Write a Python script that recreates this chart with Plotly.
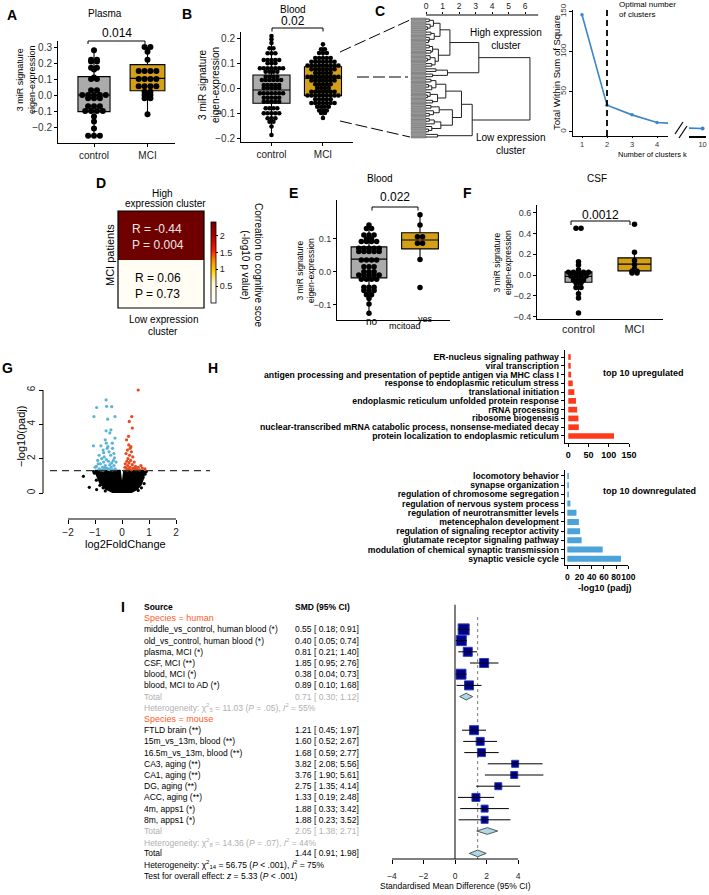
import math
import plotly.graph_objects as go

W, H = 709, 895
FONT = "Liberation Sans, Arial, Helvetica, sans-serif"

# ======================= DATA =======================
groups_cm = ["control", "MCI"]

# Panel A - plasma (3 miR signature eigen-expression)
a_ctrl = [0.28, 0.22, 0.22, 0.21, 0.21, 0.17, 0.17, 0.16, 0.11, 0.10, 0.10, 0.03, 0.03,
          0.0, 0.0, 0.0, 0.0, 0.0, -0.02, -0.02, -0.02, -0.07, -0.07, -0.07,
          -0.10, -0.10, -0.10, -0.10, -0.135, -0.165, -0.21, -0.255, -0.255, -0.255]
a_mci = [0.30, 0.30, 0.27, 0.22, 0.15, 0.15, 0.15, 0.15, 0.10, 0.10, 0.10, 0.10,
         0.055, 0.055, 0.055, 0.055, 0.02, 0.02, 0.0, 0.0, -0.02, -0.02, -0.12]
# box stats: [lower whisker, q1, median, q3, upper whisker]
a_box_ctrl = [-0.255, -0.104, 0.0, 0.115, 0.28]
a_box_mci = [-0.12, 0.027, 0.104, 0.19, 0.30]
a_pval = "0.014"

# Panel B - blood (dot rows: level value, number of dots)
b_ctrl_levels = [0.208, 0.195, 0.18, 0.159, 0.139, 0.112, 0.099, 0.079, 0.065, 0.045, 0.032,
                 0.012, 0.0, -0.021, -0.039, -0.055, -0.081, -0.101, -0.121, -0.135, -0.154, -0.188]
b_ctrl_counts = [1, 1, 1, 2, 3, 5, 3, 7, 4, 4, 6, 5, 5, 7, 5, 5, 4, 5, 3, 2, 1, 1]
b_mci_levels = [0.175, 0.155, 0.14, 0.12, 0.105, 0.09, 0.075, 0.06, 0.045, 0.03, 0.015, 0.0,
                -0.015, -0.03, -0.045, -0.06, -0.075, -0.09, -0.1, -0.12]
b_mci_counts = [1, 2, 3, 5, 7, 9, 7, 5, 9, 7, 5, 4, 7, 9, 5, 7, 4, 3, 2, 1]
b_box_ctrl = [-0.188, -0.061, -0.008, 0.052, 0.208]
b_box_mci = [-0.12, -0.031, 0.039, 0.085, 0.175]
b_pval = "0.02"

# Panel C - dendrogram (height, left, right); 0 = leaf
L = 0
dendro_tree = (6.3,
    (3.2,
        (1.45,
            (0.85,
                (0.45, (0.2, L, L), (0.25, L, (0.1, L, L))),
                (0.5, (0.3, L, L), (0.2, L, (0.15, L, L)))),
            (0.75,
                (0.4, (0.2, L, L), (0.3, L, L)),
                (0.55, (0.25, L, (0.1, L, L)), (0.35, L, L)))),
        (1.3, (0.6, L, L), (0.4, L, L))),
    (2.8,
        (2.15,
            (1.2,
                (0.6, (0.3, L, L), (0.35, (0.15, L, L), L)),
                (0.7, (0.25, L, (0.1, L, L)), (0.4, L, L))),
            (1.6,
                (0.8, (0.3, L, L), (0.45, L, (0.2, L, L))),
                (0.9, (0.5, (0.2, L, L), L), (0.35, L, (0.15, L, L))))),
        (0.7, L, L)))
dendro_ticks = [0, 1, 2, 3, 4, 5, 6]

# Panel C - elbow
elbow_k = [1, 2, 3, 4, 5]
elbow_wss = [146, 33, 21, 11.5, 9.5]
elbow_k_tail = [9, 10]
elbow_wss_tail = [4.5, 4.0]
optimal_k = 2

# Panel D - correlation to cognitive score (high, low expression cluster)
d_r = [-0.44, 0.06]
d_p = [0.004, 0.73]

# Panel E - blood, MCI to AD
e_no_levels = [0.142, 0.132, 0.112, 0.1, 0.092, 0.072, 0.062, 0.036, 0.016, 0.001, -0.009,
               -0.022, -0.046, -0.056, -0.069, -0.08, -0.097, -0.125]
e_no_counts = [1, 2, 3, 2, 4, 5, 5, 4, 3, 3, 5, 4, 3, 3, 2, 1, 1, 1]
e_yes = [0.173, 0.142, 0.107, 0.107, 0.087, 0.087, 0.038, -0.047]
e_box_no = [-0.125, -0.018, 0.039, 0.076, 0.142]
e_box_yes = [0.038, 0.07, 0.097, 0.119, 0.173]
e_pval = "0.022"

# Panel F - CSF
f_ctrl = [0.449, 0.449, 0.128, 0.095, 0.05, 0.026, 0.026, 0.026, 0.026, 0.026,
          -0.01, -0.01, -0.01, -0.01, -0.048, -0.048, -0.048, -0.075, -0.075,
          -0.12, -0.12, -0.18, -0.22, -0.366]
f_mci = [0.487, 0.218, 0.14, 0.1, 0.06, 0.035, 0.035, 0.02, 0.02]
f_box_ctrl = [-0.22, -0.07, -0.013, 0.03, 0.128]
f_box_mci = [0.02, 0.04, 0.105, 0.165, 0.218]
f_pval = "0.0012"

# Panel G - volcano (log2FoldChange, -log10 padj)
g_down_pts = [(-0.51, 6.4), (-0.59, 5.42), (-0.57, 5.05), (-0.94, 4.98), (-0.38, 5.03),
              (-1.04, 4.45), (-0.26, 4.45), (-0.53, 4.3), (-0.41, 3.68), (-0.59, 3.62),
              (-1.06, 2.75), (-0.78, 2.75), (-0.26, 3.2), (-0.36, 2.9), (-0.62, 3.1),
              (-0.45, 3.5), (-0.7, 2.5), (-0.55, 2.6), (-0.3, 2.3), (-0.85, 2.2),
              (-0.48, 2.4), (-0.66, 2.1), (-0.35, 2.6), (-0.9, 1.9), (-0.75, 2.0),
              (-0.42, 2.2), (-0.58, 1.95), (-0.28, 2.05), (-0.68, 1.8), (-0.5, 1.85),
              (-0.8, 1.7), (-0.38, 1.75), (-0.62, 1.6), (-0.95, 1.55), (-0.45, 1.65),
              (-0.72, 1.5), (-0.3, 1.6), (-0.55, 1.45), (-0.85, 1.4), (-0.65, 1.45),
              (-0.4, 1.5), (-0.25, 1.4), (-0.5, 1.38), (-0.78, 1.35), (-0.6, 1.42),
              (-0.35, 1.35), (-1.0, 1.5), (-0.7, 1.33), (-0.45, 1.36), (-0.88, 1.7),
              (-0.32, 1.9), (-0.58, 2.9), (-0.22, 1.8), (-0.68, 2.35), (-0.52, 2.7)]
g_up_pts = [(0.6, 6.0), (0.36, 4.45), (0.27, 4.17), (0.38, 3.78), (0.17, 3.1), (0.25, 2.8),
            (0.3, 2.6), (0.2, 2.5), (0.35, 2.4), (0.15, 2.3), (0.28, 2.2), (0.4, 2.1),
            (0.22, 2.0), (0.32, 1.9), (0.18, 1.85), (0.45, 1.8), (0.26, 1.75), (0.12, 1.7),
            (0.38, 1.65), (0.21, 1.6), (0.5, 1.55), (0.3, 1.5), (0.15, 1.45), (0.42, 1.45),
            (0.25, 1.4), (0.6, 1.5), (0.7, 1.6), (0.75, 1.45), (0.85, 1.4), (0.55, 1.38),
            (0.35, 1.35), (0.2, 1.35), (0.48, 1.4), (0.65, 1.35), (0.11, 1.5), (0.33, 2.7),
            (0.24, 3.3)]
g_ns_pts = [(-1.43, 0.97), (-1.21, 0.33), (-0.94, 0.2), (-1.02, 1.15), (-0.95, 0.75),
            (0.78, 0.9), (0.82, 0.55), (0.72, 0.3), (-0.82, 0.45), (0.6, 0.15), (-0.62, 0.12),
            (0.86, 1.1), (-1.05, 1.25), (0.9, 1.25), (-0.7, 0.3)]
g_ns_region_lfc = [-1.0, -0.92, -0.8, -0.6, -0.35, 0.0, 0.35, 0.55, 0.7, 0.78, 0.83, 0.8,
                   0.08, 0.03, -0.03, -0.08, -1.0]
g_ns_region_p = [1.3, 0.95, 0.55, 0.25, 0.06, 0.0, 0.06, 0.22, 0.5, 0.85, 1.2, 1.3,
                 1.3, 0.65, 0.65, 1.3, 1.3]
g_padj_cut = 0.05

# Panel H - GO enrichment
h_up_terms = ["ER-nucleus signaling pathway", "viral transcription",
              "antigen processing and presentation of peptide antigen via MHC class I",
              "response to endoplasmic reticulum stress", "translational initiation",
              "endoplasmic reticulum unfolded protein response", "rRNA processing",
              "ribosome biogenesis", "nuclear-transcribed mRNA catabolic process, nonsense-mediated decay",
              "protein localization to endoplasmic reticulum"]
h_up_vals = [6, 6, 7, 11, 15, 19, 22, 25, 26, 113]
h_down_terms = ["locomotory behavior", "synapse organization", "regulation of chromosome segregation",
                "regulation of nervous system process", "regulation of neurotransmitter levels",
                "metencephalon development", "regulation of signaling receptor activity",
                "glutamate receptor signaling pathway", "modulation of chemical synaptic transmission",
                "synaptic vesicle cycle"]
h_down_vals = [2.5, 2.5, 2.5, 5, 15, 19, 21, 23.5, 58, 88]

# Panel I - meta-analysis
i_human_src = ["middle_vs_control, human blood (*)", "old_vs_control, human blood (*)",
               "plasma, MCI (*)", "CSF, MCI (**)", "blood, MCI (*)", "blood, MCI to AD (*)"]
i_human_smd = [0.55, 0.40, 0.81, 1.85, 0.38, 0.89]
i_human_lo = [0.18, 0.05, 0.21, 0.95, 0.04, 0.10]
i_human_hi = [0.91, 0.74, 1.40, 2.76, 0.73, 1.68]
i_human_w = [11, 10, 9, 9, 10, 9]
i_mouse_src = ["FTLD brain (**)", "15m_vs_13m, blood (**)", "16.5m_vs_13m, blood (**)",
               "CA3, aging (**)", "CA1, aging (**)", "DG, aging (**)", "ACC, aging (**)",
               "4m, apps1 (*)", "8m, apps1 (*)"]
i_mouse_smd = [1.21, 1.60, 1.68, 3.82, 3.76, 2.75, 1.33, 1.88, 1.88]
i_mouse_lo = [0.45, 0.52, 0.59, 2.08, 1.90, 1.35, 0.19, 0.33, 0.23]
i_mouse_hi = [1.97, 2.67, 2.77, 5.56, 5.61, 4.14, 2.48, 3.42, 3.52]
i_mouse_w = [9, 8, 8, 7, 7, 7, 8, 7, 7]
i_total_human = [0.71, 0.30, 1.12]
i_total_mouse = [2.05, 1.38, 2.71]
i_total_all = [1.44, 0.91, 1.98]
i_x_ticks = [-4, -2, 0, 2, 4]

# ======================= HELPERS =======================
def X(px): return px / W
def Y(py): return 1 - py / H
def lin(v, r0, r1, p0, p1): return p0 + (v - r0) / (r1 - r0) * (p1 - p0)

layout = {}
shapes = []
annos = []
traces = []

def axname(n, a): return (a + 'axis') if n == 1 else f'{a}axis{n}'
def axref(n, a): return a if n == 1 else f'{a}{n}'

def set_axes(n, xdom, ydom, xr, yr, xo=None, yo=None):
    base = dict(showgrid=False, zeroline=False, showline=False, showticklabels=False,
                ticks='', fixedrange=True, type='linear', automargin=False)
    xa = dict(base, domain=[X(xdom[0]), X(xdom[1])], range=xr, anchor=axref(n, 'y'))
    ya = dict(base, domain=[Y(ydom[1]), Y(ydom[0])], range=yr, anchor=axref(n, 'x'))
    if xo: xa.update(xo)
    if yo: ya.update(yo)
    layout[axname(n, 'x')] = xa
    layout[axname(n, 'y')] = ya

def classic(size, **kw):
    d = dict(showline=True, linecolor='black', linewidth=1, ticks='outside', ticklen=3,
             tickwidth=1, tickcolor='black', showticklabels=True, tickangle=0,
             tickfont=dict(size=size, color='#333333', family=FONT))
    d.update(kw)
    return d

def text(px, py, s, size=9, color='black', xanchor='center', yanchor='middle', angle=0, align='center'):
    annos.append(dict(x=X(px), y=Y(py), xref='paper', yref='paper', text=s, showarrow=False,
                      font=dict(size=size, color=color, family=FONT), xanchor=xanchor,
                      yanchor=yanchor, textangle=angle, align=align))

def seg(x0, y0, x1, y1, color='black', width=1, dash='solid'):
    shapes.append(dict(type='line', xref='paper', yref='paper', x0=X(x0), y0=Y(y0),
                       x1=X(x1), y1=Y(y1), line=dict(color=color, width=width, dash=dash)))

def bracket(x0, x1, y, drop):
    seg(x0, y + drop, x0, y); seg(x0, y, x1, y); seg(x1, y, x1, y + drop)

def expand(levels, counts):
    out = []
    for v, c in zip(levels, counts):
        out += [v] * c
    return out

def dot_xy(values, center, dx):
    rows = {}
    for v in values:
        rows[v] = rows.get(v, 0) + 1
    xs, ys = [], []
    for v, n in rows.items():
        for k in range(n):
            xs.append(center + (k - (n - 1) / 2) * dx)
            ys.append(v)
    return xs, ys

def box_trace(stats, center, width, color, n):
    lo, q1, med, q3, hi = stats
    return go.Box(x=[center], q1=[q1], median=[med], q3=[q3], lowerfence=[lo], upperfence=[hi],
                  width=width, fillcolor=color, line=dict(color='black', width=1.1),
                  whiskerwidth=0, boxpoints=False, xaxis=axref(n, 'x'), yaxis=axref(n, 'y'),
                  showlegend=False, hoverinfo='skip')

def dots_trace(values, center, dx, size, n):
    xs, ys = dot_xy(values, center, dx)
    return go.Scatter(x=xs, y=ys, mode='markers', marker=dict(color='black', size=size, opacity=1),
                      xaxis=axref(n, 'x'), yaxis=axref(n, 'y'), showlegend=False,
                      cliponaxis=False, hoverinfo='skip')

GRAY = '#ABABAB'
GOLD = '#D4A017'

def fmt(v):
    return ('−' + f'{abs(v):.1f}') if v < 0 else f'{v:.1f}'

# ======================= PANEL A =======================
A_X, A_Y = (58, 175), (40.6, 143)
A_XR, A_YR = [-0.673, 1.514], [-0.3, 0.34]
a_yt = [-0.2, -0.1, 0.0, 0.1, 0.2, 0.3]
set_axes(1, A_X, A_Y, A_XR, A_YR,
         classic(10, tickvals=[0, 1], ticktext=groups_cm, tickfont=dict(size=10, color='#222', family=FONT)),
         classic(10, tickvals=a_yt, ticktext=[fmt(v) for v in a_yt]))
traces += [box_trace(a_box_ctrl, 0, 0.6, GRAY, 1), box_trace(a_box_mci, 1, 0.65, GOLD, 1),
           dots_trace(a_ctrl, 0, 0.11, 6, 1), dots_trace(a_mci, 1, 0.11, 6, 1)]
text(105, 14, "Plasma", 10)
text(117, 33, a_pval, 12)
bracket(88, 145, 41, 3)
text(26, 80, "3 miR signature<br>eigen-expression", 9, angle=-90)

# ======================= PANEL B =======================
B_X, B_Y = (241, 353), (32, 142)
B_XR, B_YR = [-0.592, 1.583], [-0.216, 0.224]
b_yt = [-0.2, -0.1, 0.0, 0.1, 0.2]
set_axes(2, B_X, B_Y, B_XR, B_YR,
         classic(10, tickvals=[0, 1], ticktext=groups_cm, tickfont=dict(size=10, color='#222', family=FONT)),
         classic(10, tickvals=b_yt, ticktext=[fmt(v) for v in b_yt]))
traces += [box_trace(b_box_ctrl, 0, 0.72, GRAY, 2), box_trace(b_box_mci, 1, 0.72, GOLD, 2),
           dots_trace(expand(b_ctrl_levels, b_ctrl_counts), 0, 0.075, 4.6, 2),
           dots_trace(expand(b_mci_levels, b_mci_counts), 1, 0.075, 4.6, 2)]
text(293, 10, "Blood", 10)
text(293, 21, b_pval, 12)
bracket(272, 323, 28, 3.5)
text(209, 85, "3 miR signature<br>eigen-expression", 10, angle=-90)

# connectors B -> C
seg(340, 52, 412, 19, dash='12px,4px')
seg(357, 77, 408, 77, dash='12px,4px')
seg(340, 121, 410, 137, dash='12px,4px')

# ======================= PANEL C: dendrogram =======================
C_X, C_Y = (409.5, 538.2), (15, 141)
C_XR = [-1.0, 6.8]
segs = []
counter = [0]

def layout_tree(node):
    if node == L:
        i = counter[0]; counter[0] += 1
        return 0.0, float(i)
    h, a, b = node
    ha, ya = layout_tree(a)
    hb, yb = layout_tree(b)
    segs.append([(ha, ya), (h, ya), (h, yb), (hb, yb)])
    return h, (ya + yb) / 2

layout_tree(dendro_tree)
n_leaves = counter[0]
leaf_step = (137 - 19) / (n_leaves - 1)
C_YR = [(141 - 19) / leaf_step, (15 - 19) / leaf_step]
set_axes(3, C_X, C_Y, C_XR, C_YR,
         dict(side='top', ticks='outside', ticklen=2, tickcolor='black', showticklabels=True,
              tickvals=dendro_ticks, tickfont=dict(size=8.5, color='#222', family=FONT)))
seg(lin(0, C_XR[0], C_XR[1], *C_X), 15, lin(6.8, C_XR[0], C_XR[1], *C_X), 15)
lx, ly = [], []
for s in segs:
    for (px_, py_) in s:
        lx.append(px_); ly.append(py_)
    lx.append(None); ly.append(None)
traces.append(go.Bar(y=list(range(n_leaves)), x=[0.9] * n_leaves, base=[-0.9] * n_leaves,
                     orientation='h', width=0.75, marker=dict(color='#9c9c9c', line=dict(color='#555', width=0.5)),
                     xaxis='x3', yaxis='y3', showlegend=False, hoverinfo='skip'))
traces.append(go.Scatter(x=lx, y=ly, mode='lines', line=dict(color='#222', width=1),
                         xaxis='x3', yaxis='y3', showlegend=False, hoverinfo='skip'))
text(506, 39, "High expression<br>cluster", 10)
text(510, 144, "Low expression<br>cluster", 10)

# ======================= PANEL C: elbow =======================
E4_X, E4_Y = (573, 668), (10, 136)
E4_XR, E4_YR = [0.64, 4.44], [-5.4, 152]
set_axes(4, E4_X, E4_Y, E4_XR, E4_YR,
         classic(7.5, tickvals=[1, 2, 3, 4], ticklen=1, linewidth=1.2),
         classic(8, tickvals=[0, 50, 100, 150], tickangle=-90, ticklen=3))
set_axes(5, (689, 706), E4_Y, [9.2, 10.2], E4_YR,
         classic(7.5, tickvals=[10], ticklen=0, linewidth=1.6))
traces.append(go.Scatter(x=elbow_k, y=elbow_wss, mode='lines+markers',
                         line=dict(color='#3a86c8', width=1.6), marker=dict(size=3.5, color='#3a86c8'),
                         xaxis='x4', yaxis='y4', showlegend=False, hoverinfo='skip'))
traces.append(go.Scatter(x=elbow_k_tail, y=elbow_wss_tail, mode='lines+markers',
                         line=dict(color='#3a86c8', width=1.6), marker=dict(size=4, color='#3a86c8'),
                         xaxis='x5', yaxis='y5', showlegend=False, hoverinfo='skip'))
shapes.append(dict(type='line', xref='x4', yref='y4 domain', x0=optimal_k, x1=optimal_k, y0=0, y1=1,
                   line=dict(color='black', width=1.8, dash='6px,4px')))
seg(675, 134, 683, 122, width=1.2)
seg(679, 138, 687, 126, width=1.2)
text(557, 73, "Total Within Sum of Square", 9.5, angle=-90)
text(652, 154, "Number of clusters k", 7.5)
text(617, 10, "Optimal number<br>of clusters", 8, xanchor='left', align='left')

# ======================= PANEL D =======================
D_X, D_Y = (118, 204), (211, 308)
z_high = -math.log10(d_p[0])
z_low = -math.log10(d_p[1])
set_axes(6, D_X, D_Y, [-0.5, 0.5], [-0.5, 1.5])
dscale = [[0.0, '#ffffff'], [0.25, '#fff6d0'], [0.4, '#ffd000'], [0.52, '#ff8c00'],
          [0.65, '#ff1a00'], [0.82, '#b00000'], [1.0, '#6e0000']]
traces.append(go.Heatmap(z=[[z_low], [z_high]], x=[0], y=[0, 1], zmin=0, zmax=2.4,
                         colorscale=dscale, xaxis='x6', yaxis='y6', hoverinfo='skip',
                         colorbar=dict(x=X(211), xanchor='left', y=Y(262.5), yanchor='middle',
                                       len=81 / H, lenmode='fraction', thickness=5,
                                       outlinecolor='black', outlinewidth=0.8, xpad=0, ypad=0,
                                       tickvals=[0.5, 1, 1.5, 2], ticktext=['0.5', '1', '1.5', '2'],
                                       ticks='outside', ticklen=2, tickcolor='black',
                                       tickfont=dict(size=9, family=FONT, color='#222'))))
shapes.append(dict(type='rect', xref='paper', yref='paper', x0=X(118), x1=X(204), y0=Y(308), y1=Y(211),
                   line=dict(color='black', width=1.2)))
text(130, 237, f"R = {d_r[0]:.2f}<br>P = {d_p[0]:.3f}", 12, color='#f0e6e6', xanchor='left', align='left')
text(133, 286, f"R = {d_r[1]:.2f}<br>P = {d_p[1]:.2f}", 12, xanchor='left', align='left')
text(110, 255, "MCI patients", 11, angle=-90)
text(162, 193, "High", 10)
text(165, 204, "expression cluster", 10)
text(163, 319, "Low expression", 10)
text(163, 331, "cluster", 10)
text(252, 265, "Correation to cognitive scoe<br>(-log10 p value)", 10, angle=90)

# ======================= PANEL E =======================
E_X, E_Y = (337, 450), (200, 320)
E_XR, E_YR = [-0.627, 1.588], [-0.1455, 0.218]
e_yt = [-0.1, 0.0, 0.1]
set_axes(7, E_X, E_Y, E_XR, E_YR,
         dict(showline=True, linecolor='black', linewidth=1),
         classic(9, tickvals=e_yt, ticktext=[fmt(v) for v in e_yt]))
traces += [box_trace(e_box_no, 0, 0.7, GRAY, 7), box_trace(e_box_yes, 1, 0.72, GOLD, 7),
           dots_trace(expand(e_no_levels, e_no_counts), 0, 0.1, 5.5, 7),
           dots_trace(e_yes, 1, 0.1, 5.5, 7)]
text(380, 178, "Blood", 10)
text(395, 197, e_pval, 12)
bracket(372, 418, 207, 3.5)
text(305, 271, "3 miR signature<br>eigen-expression", 8.5, angle=-90)
text(372, 322, "no", 10)
text(426, 319, "yes", 9)
text(405, 326, "mcitoad", 9)

# ======================= PANEL F =======================
F_X, F_Y = (537, 663), (205, 319)
F_XR, F_YR = [-0.741, 1.509], [-0.423, 0.673]
f_yt = [-0.4, -0.2, 0.0, 0.2, 0.4, 0.6]
set_axes(8, F_X, F_Y, F_XR, F_YR,
         classic(11, tickvals=[0, 1], ticktext=groups_cm, ticks='', tickfont=dict(size=11, color='#222', family=FONT)),
         classic(9, tickvals=f_yt, ticktext=[fmt(v) for v in f_yt]))
traces += [box_trace(f_box_ctrl, 0, 0.48, GRAY, 8), box_trace(f_box_mci, 1, 0.59, GOLD, 8),
           dots_trace(f_ctrl, 0, 0.09, 5.5, 8), dots_trace(f_mci, 1, 0.09, 5.5, 8)]
text(597, 178, "CSF", 10)
text(600, 215, f_pval, 12)
bracket(571, 630, 221, 4)
text(502, 263, "3 miR signature<br>eigen-expression", 8.5, angle=-90)

# ======================= PANEL G =======================
G_X, G_Y = (68, 176), (390, 493)
set_axes(9, G_X, G_Y, [-2, 2], [0, 6],
         dict(anchor='free', position=Y(519), ticks='outside', ticklen=4, tickcolor='black',
              showticklabels=True, tickvals=[-2, -1, 0, 1, 2], ticktext=['−2', '−1', '0', '1', '2'],
              tickfont=dict(size=10, color='#222', family=FONT)),
         dict(anchor='free', position=X(43), ticks='outside', ticklen=4, tickcolor='black',
              showticklabels=True, tickvals=[0, 2, 4, 6], tickangle=-90,
              tickfont=dict(size=10, color='#222', family=FONT)))
seg(68, 519, 176, 519)
seg(43, 390, 43, 493)
thr = -math.log10(g_padj_cut)
thr_py = lin(thr, 0, 6, 493, 390)
seg(50, thr_py, 210, thr_py, color='#333', width=1.3, dash='7px,5px')
traces.append(go.Scatter(x=g_ns_region_lfc, y=g_ns_region_p, mode='lines', fill='toself',
                         fillcolor='black', line=dict(color='black', width=2),
                         xaxis='x9', yaxis='y9', showlegend=False, hoverinfo='skip'))
for pts, col in [(g_ns_pts, 'black'), (g_down_pts, '#5bb4d8'), (g_up_pts, '#e8491d')]:
    traces.append(go.Scatter(x=[p[0] for p in pts], y=[p[1] for p in pts], mode='markers',
                             marker=dict(color=col, size=3.2, opacity=1), xaxis='x9', yaxis='y9',
                             cliponaxis=False, showlegend=False, hoverinfo='skip'))
text(125, 544, "log2FoldChange", 11)
text(21, 437, "−log10(padj)", 11, angle=-90)

# ======================= PANEL H =======================
def bold(lst): return [f"<b>{t}</b>" for t in lst]
HU_X, HU_Y = (565, 629), (350, 443)
set_axes(10, HU_X, HU_Y, [-8.1, 150], [9.8, -0.8],
         classic(9, tickvals=[0, 50, 100, 150], ticktext=bold(['0', '50', '100', '150']),
                 linewidth=1.3, tickfont=dict(size=9, color='black', family=FONT)),
         classic(8, tickvals=list(range(10)), ticktext=bold(h_up_terms), linewidth=1.3,
                 tickfont=dict(size=8.7, color='black', family=FONT)))
traces.append(go.Bar(y=list(range(10)), x=h_up_vals, orientation='h', width=0.65,
                     marker=dict(color='#ff3a1a', line=dict(width=0)), xaxis='x10', yaxis='y10',
                     showlegend=False, hoverinfo='skip'))
HD_X, HD_Y = (565, 628.3), (470, 565)
set_axes(11, HD_X, HD_Y, [-3.8, 100], [9.68, -0.65],
         classic(9, tickvals=[0, 20, 40, 60, 80, 100], ticktext=bold(['0', '20', '40', '60', '80', '100']),
                 linewidth=1.3, tickfont=dict(size=8.5, color='black', family=FONT)),
         classic(8, tickvals=list(range(10)), ticktext=bold(h_down_terms), linewidth=1.3,
                 tickfont=dict(size=8.7, color='black', family=FONT)))
traces.append(go.Bar(y=list(range(10)), x=h_down_vals, orientation='h', width=0.65,
                     marker=dict(color='#4ba3d9', line=dict(width=0)), xaxis='x11', yaxis='y11',
                     showlegend=False, hoverinfo='skip'))
text(643, 373, "<b>top 10 upregulated</b>", 9)
text(649, 491, "<b>top 10 downregulated</b>", 9)
text(605, 588, "<b>-log10 (padj)</b>", 9)

# ======================= PANEL I =======================
I_X, I_Y = (376, 560), (600, 859)
I_XR = [(376 - 455) / 15.75, (560 - 455) / 15.75]
I_YR = [22.5, -0.625]
set_axes(12, I_X, I_Y, I_XR, I_YR,
         dict(ticks='outside', ticklen=4, tickcolor='black', showticklabels=True,
              tickvals=i_x_ticks, ticktext=[('−' + str(abs(t))) if t < 0 else str(t) for t in i_x_ticks],
              ticklabelstandoff=5, tickfont=dict(size=8.5, color='#222', family=FONT)))
seg(lin(-4, *I_XR, *I_X), 859, lin(4, *I_XR, *I_X), 859)

def row_py(i): return lin(i, I_YR[0], I_YR[1], I_Y[1], I_Y[0])

h_rows = list(range(2, 2 + len(i_human_src)))
m_rows = list(range(11, 11 + len(i_mouse_src)))
all_smd = i_human_smd + i_mouse_smd
all_lo = i_human_lo + i_mouse_lo
all_hi = i_human_hi + i_mouse_hi
all_rows = h_rows + m_rows
all_w = i_human_w + i_mouse_w

traces.append(go.Scatter(x=[0, 0], y=[-0.2, 22.5], mode='lines', line=dict(color='black', width=1),
                         xaxis='x12', yaxis='y12', showlegend=False, hoverinfo='skip'))
traces.append(go.Scatter(x=[i_total_all[0]] * 2, y=[0.9, 22.5], mode='lines',
                         line=dict(color='#777', width=1, dash='dot'),
                         xaxis='x12', yaxis='y12', showlegend=False, hoverinfo='skip'))
traces.append(go.Scatter(x=all_smd, y=all_rows, mode='markers',
                         marker=dict(symbol='square', size=all_w, color='#00008b', opacity=1,
                                     line=dict(color='#2a3fb0', width=1)),
                         xaxis='x12', yaxis='y12', showlegend=False, hoverinfo='skip', cliponaxis=False))
cx, cy = [], []
for lo, hi, r in zip(all_lo, all_hi, all_rows):
    cx += [lo, hi, None]; cy += [r, r, None]
traces.append(go.Scatter(x=cx, y=cy, mode='lines', line=dict(color='black', width=1),
                         xaxis='x12', yaxis='y12', showlegend=False, hoverinfo='skip'))
for (est, lo, hi), r in [(i_total_human, 8), (i_total_mouse, 20), (i_total_all, 22)]:
    hh = 0.3
    traces.append(go.Scatter(x=[lo, est, hi, est, lo], y=[r, r - hh, r, r + hh, r], mode='lines',
                             fill='toself', fillcolor='#add8e6', line=dict(color='#333', width=0.8),
                             xaxis='x12', yaxis='y12', showlegend=False, hoverinfo='skip'))

def ci(e, lo, hi): return f"{e:.2f} [ {lo:.2f}; {hi:.2f}]"
ORANGE = '#ff5a1f'
LG = '#b0b0b0'
XL, XV = 142, 293
rows_txt = [(0, "<b>Source</b>", "<b>SMD (95% CI)</b>", 'black'),
            (1, "Species = human", "", ORANGE)]
for k, r in enumerate(h_rows):
    rows_txt.append((r, i_human_src[k], ci(i_human_smd[k], i_human_lo[k], i_human_hi[k]), 'black'))
rows_txt.append((8, "Total", ci(*i_total_human), LG))
rows_txt.append((9, "Heterogeneity: χ<sup>2</sup><sub>5</sub> = 11.03 (<i>P</i> = .05), <i>I</i><sup>2</sup> = 55%", "", LG))
rows_txt.append((10, "Species = mouse", "", ORANGE))
for k, r in enumerate(m_rows):
    rows_txt.append((r, i_mouse_src[k], ci(i_mouse_smd[k], i_mouse_lo[k], i_mouse_hi[k]), 'black'))
rows_txt.append((20, "Total", ci(*i_total_mouse), LG))
rows_txt.append((21, "Heterogeneity: χ<sup>2</sup><sub>8</sub> = 14.36 (<i>P</i> = .07), <i>I</i><sup>2</sup> = 44%", "", LG))
rows_txt.append((22, "Total", ci(*i_total_all), 'black'))
rows_txt.append((23, "Heterogeneity: χ<sup>2</sup><sub>14</sub> = 56.75 (<i>P</i> < .001), <i>I</i><sup>2</sup> = 75%", "", 'black'))
rows_txt.append((24, "Test for overall effect: <i>z</i> = 5.33 (<i>P</i> < .001)", "", 'black'))
for r, left, right, col in rows_txt:
    sz = 8.5 if r not in (1, 10) else 9
    text(XL, row_py(r), left, sz, color=col, xanchor='left')
    if right:
        text(XV, row_py(r), right, 8.5, color=col, xanchor='left')
text(455, 886, "Standardised Mean Difference (95% CI)", 8.5)

# ======================= PANEL LETTERS =======================
for lab, px, py in [("A", 12, 15), ("B", 187, 14), ("C", 380, 11), ("D", 101, 183), ("E", 293, 193),
                    ("F", 467, 193), ("G", 7, 368), ("H", 213, 368), ("I", 123, 607)]:
    text(px, py, f"<b>{lab}</b>", 14)

fig = go.Figure(data=traces)
fig.update_layout(width=W, height=H, autosize=False,
                  margin=dict(l=0, r=0, t=0, b=0, pad=0, autoexpand=False),
                  paper_bgcolor='white', plot_bgcolor='rgba(0,0,0,0)', showlegend=False,
                  font=dict(family=FONT, size=9, color='black'), shapes=shapes, annotations=annos,
                  barmode='overlay', **layout)
fig.write_html("out.html", config={'displayModeBar': False, 'staticPlot': True},
               post_script="document.body.style.margin='0px';document.body.style.padding='0px';")
